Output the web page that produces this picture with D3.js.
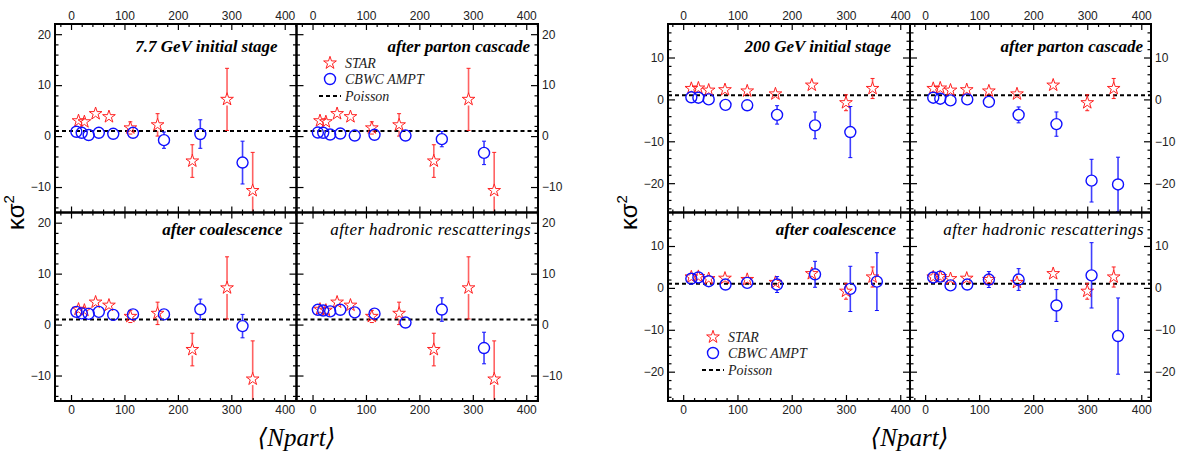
<!DOCTYPE html>
<html>
<head>
<meta charset="utf-8">
<script src="https://cdn.jsdelivr.net/npm/d3@7"></script>
<style>
  body { margin: 0; background: #fff; }
  svg { display: block; }
</style>
</head>
<body>
<svg id="chart" width="1179" height="451"></svg>
<script>
// ---- data ----
// 7.7 GeV
var star77Npart = [14, 25, 46, 71, 111, 162, 227, 292, 340];
var star77K     = [3.0, 2.8, 4.4, 3.8, 1.6, 2.2, -4.9, 7.2, -10.7];
var star77Err   = [0.8, 0.9, 1.0, 1.0, 1.2, 2.2, 3.2, 6.1, 7.5];

var ampt77Npart    = [10, 20, 33, 52, 79, 116, 174, 242, 321];
var ampt77Init     = [0.85, 0.65, 0.2, 0.65, 0.45, 0.65, -0.8, 0.4, -5.2];
var ampt77InitErr  = [0.3, 0.3, 0.4, 0.4, 0.5, 0.6, 1.6, 2.8, 4.2];
var ampt77Parton   = [0.7, 0.65, 0.3, 0.5, 0.1, 0.25, 0.1, -0.6, -3.3];
var ampt77PartonErr= [0.3, 0.3, 0.4, 0.4, 0.5, 0.6, 0.8, 1.5, 2.3];
var ampt77Coal     = [2.5, 2.2, 2.1, 2.5, 1.9, 2.0, 2.0, 3.0, -0.3];
var ampt77CoalErr  = [0.4, 0.4, 0.5, 0.5, 0.6, 0.7, 0.9, 2.0, 2.3];
var ampt77Hadron   = [2.9, 2.75, 2.6, 2.9, 2.4, 2.15, 0.4, 2.95, -4.6];
var ampt77HadronErr= [0.4, 0.4, 0.5, 0.5, 0.6, 0.7, 0.9, 2.3, 3.1];

// 200 GeV
var star200Npart = [15, 28, 47, 77, 118, 170, 237, 300, 349];
var star200K     = [2.6, 2.7, 2.2, 2.3, 2.0, 1.3, 3.4, -0.8, 2.6];
var star200Err   = [0.4, 0.4, 0.5, 0.5, 0.6, 0.8, 1.0, 1.9, 2.4];

var ampt200Npart     = [15, 28, 47, 78, 118, 173, 243, 308, 357];
var ampt200Init      = [0.5, 0.4, 0.0, -1.3, -1.4, -3.7, -6.2, -7.8, null];
var ampt200InitErr   = [0.3, 0.4, 0.5, 0.7, 0.9, 2.2, 3.2, 6.1, null];
var ampt200Parton    = [0.4, 0.16, -0.24, 0.0, -0.6, -3.7, -5.9, -19.4, -20.3];
var ampt200PartonErr = [0.3, 0.4, 0.5, 0.6, 0.8, 1.9, 2.9, 5.1, 6.5];
var ampt200Coal      = [2.2, 2.5, 1.6, 0.8, 1.2, 0.8, 3.25, -0.24, 1.5];
var ampt200CoalErr   = [0.6, 0.7, 0.7, 0.8, 1.0, 1.9, 3.1, 5.4, 6.9];
var ampt200Hadron    = [2.5, 2.7, 0.6, 0.8, 2.0, 2.0, -4.2, 3.0, -11.5];
var ampt200HadronErr = [0.6, 0.7, 0.7, 0.8, 1.9, 2.6, 3.8, 7.8, 9.1];

var poissonLevel = 1;
var xTicks = [0, 100, 200, 300, 400];
var y77Ticks = [-10, 0, 10, 20];
var y200Ticks = [-20, -10, 0, 10];

// ---- drawing ----
var svg = d3.select("#chart");
var clipCount = 0;

function zipPts(n, k, e) {
  return n.map(function(d, i) { return {n: d, k: k[i], e: e[i]}; })
          .filter(function(d) { return d.k != null; });
}

// ROOT style error bar: drawn outside the marker, small end caps
function errBars(g, pts, x, y, r, color, w, op) {
  pts.forEach(function(d) {
    var cx = x(d.n), cy = y(d.k);
    var top = y(d.k + d.e), bot = y(d.k - d.e);
    if (cy - top > r) {
      g.append("line").attr("x1", cx).attr("x2", cx).attr("y1", top).attr("y2", cy - r)
        .attr("stroke", color).attr("stroke-width", w).attr("stroke-opacity", op);
      g.append("line").attr("x1", cx - 2).attr("x2", cx + 2).attr("y1", top).attr("y2", top)
        .attr("stroke", color).attr("stroke-width", 1);
    }
    if (bot - cy > r) {
      g.append("line").attr("x1", cx).attr("x2", cx).attr("y1", cy + r).attr("y2", bot)
        .attr("stroke", color).attr("stroke-width", w).attr("stroke-opacity", op);
      g.append("line").attr("x1", cx - 2).attr("x2", cx + 2).attr("y1", bot).attr("y2", bot)
        .attr("stroke", color).attr("stroke-width", 1);
    }
  });
}

var star = d3.symbol().type(d3.symbolStar).size(50);

function panel(p) {
  var x = d3.scaleLinear().domain(p.xDom).range([p.x0, p.x1]);
  var y = d3.scaleLinear().domain(p.yDom).range([p.y1, p.y0]);
  var g = svg.append("g");
  var cid = "clip" + (clipCount++);
  g.append("clipPath").attr("id", cid).append("rect")
    .attr("x", p.x0).attr("y", p.y0).attr("width", p.x1 - p.x0).attr("height", p.y1 - p.y0);
  var plot = g.append("g").attr("clip-path", "url(#" + cid + ")");

  // Poisson baseline
  plot.append("line")
    .attr("x1", p.x0).attr("x2", p.x1)
    .attr("y1", y(poissonLevel)).attr("y2", y(poissonLevel))
    .attr("stroke", "#000").attr("stroke-width", 2).attr("stroke-dasharray", "4,3");

  var sPts = zipPts(p.sn, p.sk, p.se);
  var aPts = zipPts(p.an, p.ak, p.ae);

  errBars(plot, sPts, x, y, 6, "#ff2020", 1.6, 0.7);
  plot.selectAll("path.star").data(sPts).enter().append("path")
    .attr("class", "star")
    .attr("d", star)
    .attr("transform", function(d) { return "translate(" + x(d.n) + "," + y(d.k) + ")"; })
    .attr("fill", "none").attr("stroke", "#ff2020").attr("stroke-width", 1);

  errBars(plot, aPts, x, y, 5.5, "#1010ff", 1.6, 0.8);
  plot.selectAll("circle.ampt").data(aPts).enter().append("circle")
    .attr("class", "ampt")
    .attr("cx", function(d) { return x(d.n); })
    .attr("cy", function(d) { return y(d.k); })
    .attr("r", 5.5)
    .attr("fill", "none").attr("stroke", "#1010ff").attr("stroke-width", 1.4);

  // axes: ticks point inward on all four sides
  var xMinor = d3.range(-20, p.xDom[1], 20).filter(function(v) { return v % 100 !== 0 && v > p.xDom[0]; });
  var yMinor = d3.range(-30, p.yDom[1], 2).filter(function(v) { return v % 10 !== 0 && v > p.yDom[0]; });
  var fmt = d3.format("d");

  function ax(gen, pos, major, minor, showLab, majLen, minLen) {
    var a = g.append("g").attr("transform", pos);
    a.call(gen.tickValues(major).tickSize(-majLen).tickPadding(p.pad).tickFormat(showLab ? fmt : ""));
    a.select(".domain").remove();
    a.selectAll("text").attr("font-family", "Liberation Sans, Arial, sans-serif")
      .attr("font-size", 12).attr("fill", "#222");
    a.selectAll("line").attr("stroke", "#000").attr("stroke-width", 1.2);
    var b = g.append("g").attr("transform", pos);
    b.call(gen.tickValues(minor).tickSize(-minLen).tickFormat(""));
    b.select(".domain").remove();
    b.selectAll("line").attr("stroke", "#000").attr("stroke-width", 1.2);
  }
  ax(d3.axisTop(x), "translate(0," + p.y0 + ")", xTicks, xMinor, p.labTop, 6, 3);
  ax(d3.axisBottom(x), "translate(0," + p.y1 + ")", xTicks, xMinor, p.labBottom, 6, 3);
  ax(d3.axisLeft(y), "translate(" + p.x0 + ",0)", p.yTicks, yMinor, p.labLeft, 7, 3.5);
  ax(d3.axisRight(y), "translate(" + p.x1 + ",0)", p.yTicks, yMinor, p.labRight, 7, 3.5);

  g.append("rect").attr("x", p.x0).attr("y", p.y0)
    .attr("width", p.x1 - p.x0).attr("height", p.y1 - p.y0)
    .attr("fill", "none").attr("stroke", "#000").attr("stroke-width", 2);

  g.append("text")
    .attr("x", p.x1 - p.tRight).attr("y", p.y0 + p.tBase)
    .attr("text-anchor", "end")
    .attr("font-family", "Liberation Serif, Times New Roman, serif")
    .attr("font-style", "italic")
    .attr("font-weight", p.bold ? "bold" : "normal")
    .attr("font-size", 17)
    .attr("letter-spacing", p.bold ? 0 : 0.4)
    .text(p.title);

  return {x: x, y: y, g: g};
}

function legend(lx, ly) {
  var g = svg.append("g");
  var font = "Liberation Serif, Times New Roman, serif";
  g.append("path").attr("d", star).attr("transform", "translate(" + lx + "," + ly + ")")
    .attr("fill", "none").attr("stroke", "#ff2020").attr("stroke-width", 1);
  g.append("circle").attr("cx", lx).attr("cy", ly + 16).attr("r", 5.5)
    .attr("fill", "none").attr("stroke", "#1010ff").attr("stroke-width", 1.4);
  g.append("line").attr("x1", lx - 11).attr("x2", lx + 11).attr("y1", ly + 33).attr("y2", ly + 33)
    .attr("stroke", "#000").attr("stroke-width", 2).attr("stroke-dasharray", "4,3");
  [["STAR", 0], ["CBWC AMPT", 16], ["Poisson", 33]].forEach(function(t) {
    g.append("text").attr("x", lx + 15).attr("y", ly + t[1] + 5)
      .attr("font-family", font).attr("font-style", "italic").attr("font-size", 14)
      .attr("fill", "#222").text(t[0]);
  });
}

function group(gx0, gxm, gx1, xDom, yDom, yTicks, sn, sk, se, an, stages) {
  var gy0 = 24, gym = 212.5, gy1 = 401;
  var boxes = [
    {x0: gx0, x1: gxm, y0: gy0, y1: gym, labTop: true, labLeft: true, tRight: 19, tBase: 28, bold: true},
    {x0: gxm, x1: gx1, y0: gy0, y1: gym, labTop: true, labRight: true, tRight: 8, tBase: 28, bold: true},
    {x0: gx0, x1: gxm, y0: gym, y1: gy1, labBottom: true, labLeft: true, tRight: 14, tBase: 22.5, bold: true},
    {x0: gxm, x1: gx1, y0: gym, y1: gy1, labBottom: true, labRight: true, tRight: 7, tBase: 22.5, bold: false}
  ];
  boxes.forEach(function(b, i) {
    b.xDom = xDom; b.yDom = yDom; b.yTicks = yTicks; b.pad = 4;
    b.title = stages[i].title;
    b.sn = sn; b.sk = sk; b.se = se;
    b.an = an; b.ak = stages[i].k; b.ae = stages[i].e;
    panel(b);
  });
  var mid = (gx0 + gx1) / 2;
  svg.append("text")
    .attr("x", mid).attr("y", 446)
    .attr("text-anchor", "middle")
    .attr("font-family", "Liberation Serif, DejaVu Serif, serif")
    .attr("font-style", "italic").attr("font-size", 25)
    .text("\u27E8Npart\u27E9");
  svg.append("text")
    .attr("transform", "translate(" + (gx0 - 31) + "," + gym + ") rotate(-90)")
    .attr("text-anchor", "middle")
    .attr("font-family", "Liberation Sans, Arial, sans-serif")
    .attr("font-size", 24)
    .html("\u03BA\u03C3<tspan dy='-10' font-size='15'>2</tspan>");
}

group(55, 296.5, 538, [-30, 422], [-15, 22], y77Ticks, star77Npart, star77K, star77Err, ampt77Npart, [
  {title: "7.7 GeV initial stage", k: ampt77Init, e: ampt77InitErr},
  {title: "after parton cascade", k: ampt77Parton, e: ampt77PartonErr},
  {title: "after coalescence", k: ampt77Coal, e: ampt77CoalErr},
  {title: "after hadronic rescatterings", k: ampt77Hadron, e: ampt77HadronErr}
]);
group(668, 910, 1151, [-28, 418], [-27, 18], y200Ticks, star200Npart, star200K, star200Err, ampt200Npart, [
  {title: "200 GeV initial stage", k: ampt200Init, e: ampt200InitErr},
  {title: "after parton cascade", k: ampt200Parton, e: ampt200PartonErr},
  {title: "after coalescence", k: ampt200Coal, e: ampt200CoalErr},
  {title: "after hadronic rescatterings", k: ampt200Hadron, e: ampt200HadronErr}
]);

legend(330, 63);
legend(713, 337);
</script>
</body>
</html>
